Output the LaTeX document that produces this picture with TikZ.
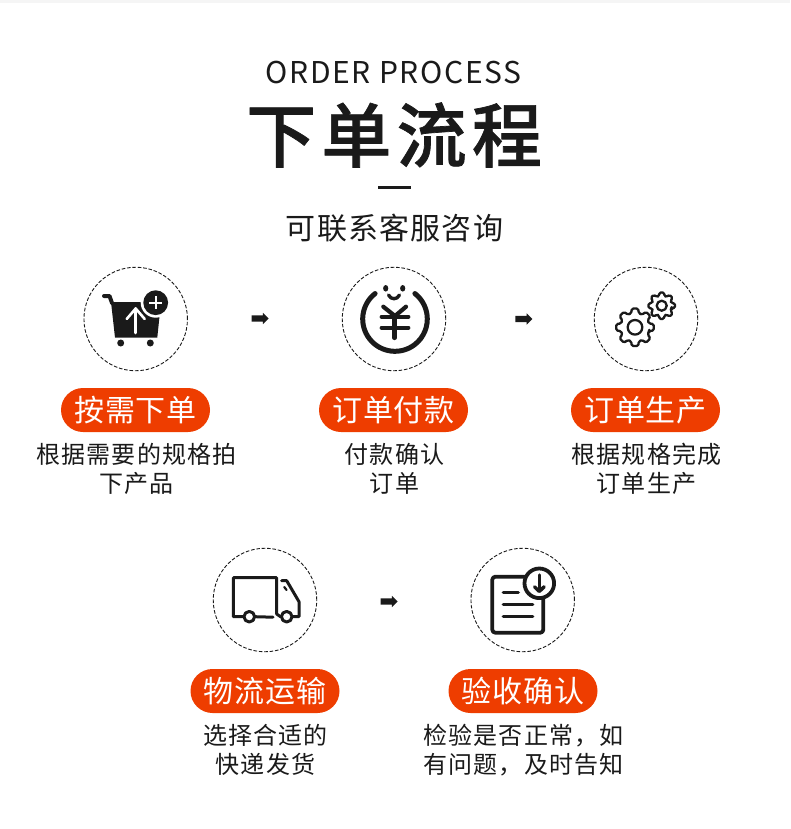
\documentclass[tikz,border=0pt]{standalone}
\usepackage{fontspec}
\usetikzlibrary{shapes.arrows}
\setmainfont{Noto Sans CJK SC}
\newfontfamily\titlefont[FakeBold=1]{Noto Sans CJK SC Medium}
\definecolor{pillorange}{HTML}{EE3D00}
\definecolor{inkblack}{HTML}{1A1A1A}
\definecolor{topstrip}{HTML}{F5F5F5}
\tikzset{
  ring/.style={circle,draw=inkblack,dash pattern=on 3.6pt off 1.8pt,line width=0.9pt,minimum size=103.5pt,inner sep=0pt},
  pill/.style={fill=pillorange,text=white,rounded corners=22pt,minimum width=149pt,minimum height=44pt,inner sep=0pt,font=\fontsize{30}{32}\selectfont\addfontfeature{LetterSpace=3}},
  bodytext/.style={text=inkblack,align=center,inner sep=0pt,font=\fontsize{24}{29}\selectfont\addfontfeature{LetterSpace=4.5}},
  nextarrow/.style={single arrow,fill=inkblack,minimum height=17pt,minimum width=11pt,single arrow head extend=2.65pt,single arrow tip angle=90,inner xsep=0pt,inner ysep=2.85pt},
  icon/.style={draw=inkblack,line width=3pt,line cap=round,line join=round},
}
\newcommand{\gearicon}[5]{%
  \draw[icon,line width=2.3pt,rounded corners=1.5pt,shift={(#1,#2)}] (-16:#4)
    \foreach \a in {0,45,...,315} { -- (\a-15:#4) -- (\a-10:#3) -- (\a+10:#3) -- (\a+15:#4) } -- cycle;
  \draw[icon,line width=2.3pt] (#1,#2) circle (#5);
}
\begin{document}
\begin{tikzpicture}[x=1pt,y=1pt]
  \useasboundingbox (0,0) rectangle (790,-829);
  \fill[topstrip] (0,0) rectangle (790,-3);

  %titles
  \node (english) at (393.5,-72.7) [text=inkblack,inner sep=0pt,font=\fontsize{30}{32}\selectfont\addfontfeature{LetterSpace=5.5}] {ORDER PROCESS};
  \node (title) at (394,-135) [text=inkblack,inner sep=0pt,font=\titlefont\fontsize{70}{72}\selectfont\addfontfeature{LetterSpace=7.5}] {下单流程};
  \fill[inkblack] (377.5,-185.5) rectangle (411,-189);
  \node (subtitle) at (394.5,-228) [text=inkblack,inner sep=0pt,font=\fontsize{30}{32}\selectfont\addfontfeature{LetterSpace=4}] {可联系客服咨询};

  %first row
  \node[ring] (order) at (135.7,-319) {};
  \node[nextarrow] (orderarrow) at (258.5,-318.5) {};
  \node[ring] (pay) at (394,-319) {};
  \node[nextarrow] (payarrow) at (522.3,-319) {};
  \node[ring] (make) at (646,-319) {};
  %second row
  \node[ring] (ship) at (265,-600) {};
  \node[nextarrow] (shiparrow) at (387.6,-601.5) {};
  \node[ring] (check) at (522.7,-600) {};

  %labels
  \node[pill] (orderpill) at (135.5,-410) {按需下单};
  \node[pill] (paypill) at (393.5,-410) {订单付款};
  \node[pill] (makepill) at (645.5,-410) {订单生产};
  \node[pill] (shippill) at (265,-691) {物流运输};
  \node[pill] (checkpill) at (523,-691) {验收确认};

  %text under labels
  \node[bodytext] (ordertext) at (136.5,-469) {根据需要的规格拍\\下产品};
  \node[bodytext] (paytext) at (394.5,-469) {付款确认\\订单};
  \node[bodytext] (maketext) at (646.5,-469) {根据规格完成\\订单生产};
  \node[bodytext] (shiptext) at (265.5,-750) {选择合适的\\快递发货};
  \node[bodytext] (checktext) at (523.5,-750) {检验是否正常，如\\有问题，及时告知};

  %cart
  \draw[icon,line width=4pt] (104,-296) -- (109.5,-296) -- (112,-303);
  \fill[inkblack] (111,-302) -- (161,-302) -- (157.3,-337.5) -- (115,-337.5) -- cycle;
  \draw[white,line width=2.6pt,line cap=round,line join=round] (135.7,-333) -- (135.7,-308.5);
  \draw[white,line width=2.6pt,line cap=round,line join=round] (126.7,-319) -- (135.7,-308.5) -- (144.7,-319);
  \fill[white] (155.7,-302.7) circle (15);
  \fill[inkblack] (155.7,-302.7) circle (12.4);
  \draw[white,line width=2.2pt] (149,-302.7) -- (162.4,-302.7) (155.7,-296) -- (155.7,-309.4);
  \fill[inkblack] (120.7,-343) circle (3.5);
  \fill[inkblack] (150.3,-343) circle (3.5);

  %yuan
  \draw[icon,line width=5pt] (395,-319) +(128:32.3) arc[start angle=128,end angle=412,radius=32.3];
  \draw[icon,line width=4.2pt] (383.3,-306.7) -- (395,-316) -- (406,-306.7);
  \draw[icon,line width=4.2pt] (381.7,-316.7) -- (408.3,-316.7);
  \draw[icon,line width=4.2pt] (381.7,-327.7) -- (408.3,-327.7);
  \draw[icon,line width=4.2pt] (394.5,-316) -- (394.5,-338);
  \fill[inkblack] (385.7,-288.3) ellipse (2.6 and 3.3);
  \fill[inkblack] (402.7,-288.3) ellipse (2.6 and 3.3);
  \draw[icon,line width=3.4pt] (388.5,-295) .. controls (391,-300) and (397,-300) .. (399.5,-295);

  %gears
  \gearicon{635}{-327.3}{19}{14.5}{7.3}
  \gearicon{661.7}{-305.7}{13.5}{10}{5}

  %truck
  \draw[icon] (243,-616.7) -- (233.3,-616.7) -- (233.3,-577.7) -- (276.7,-577.7) -- (276.7,-614) -- (280.5,-616.7);
  \draw[icon] (255,-616.7) -- (273,-617.2);
  \draw[icon] (281.7,-580.7) -- (286.7,-580.7) -- (299,-601.7) -- (299,-616.7) -- (293,-616.7);
  \draw[icon,line width=2.2pt] (284.3,-587) -- (286.5,-590);
  \draw[icon] (249.3,-616.7) circle (5.3);
  \draw[icon] (286.7,-616.7) circle (5.3);

  %document
  \draw[icon,line width=3.8pt,rounded corners=3pt] (492.3,-576.7) rectangle (543.3,-632.7);
  \draw[icon,line width=3.4pt] (503.3,-592.3) -- (518.3,-592.3);
  \draw[icon,line width=3.4pt] (503.3,-604.3) -- (532.7,-604.3);
  \draw[icon,line width=3.4pt] (503.3,-616.3) -- (532.7,-616.3);
  \draw[icon,line width=3.8pt,fill=white] (539.3,-583.3) circle (14.8);
  \draw[icon,line width=3.4pt] (539.3,-575) -- (539.3,-591);
  \draw[icon,line width=3.4pt] (534.5,-586.7) -- (539.3,-591.5) -- (544.2,-586.7);
\end{tikzpicture}
\end{document}
